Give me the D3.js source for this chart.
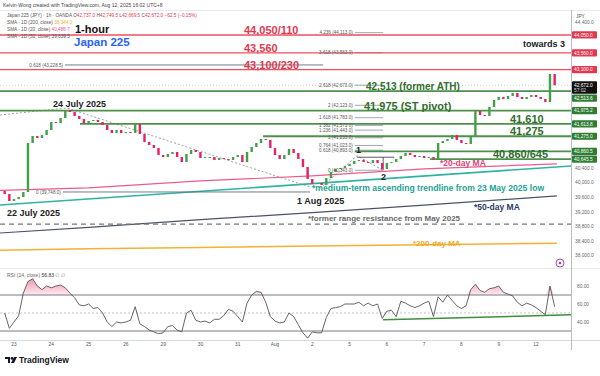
<!DOCTYPE html>
<html>
<head>
<meta charset="utf-8">
<script src="https://cdn.jsdelivr.net/npm/d3@7"></script>
<style>
  html, body { margin: 0; padding: 0; background: #fff; }
  svg { display: block; font-family: "Liberation Sans", Arial, sans-serif; }
</style>
</head>
<body>
<div id="chart"></div>
<script>
// ---- data ----
const dayLabels = ['23', '24', '25', '26', '29', '30', '31', 'Aug', '2', '5', '6', '7', '8', '9', '12'];

// hourly closes sampled ~every 3 hours (8 per session), 22 Jul -> 12 Aug
const firstOpen = 39780;
const closes = [
  39692, 39501, 39555, 39610, 39747, 41090, 41282, 41227, 41309, 41446,
  41665, 41638, 41775, 41994, 41939, 41830, 41748, 41638, 41693, 41720,
  41665, 41583, 41446, 41364, 41446, 41364, 41391, 41364, 41610, 41336,
  41117, 41035, 40953, 40761, 40706, 40788, 40843, 40706, 40569, 40788,
  40898, 40843, 40679, 40706, 40706, 40624, 40679, 40651, 40624, 40706,
  40761, 40569, 40843, 40980, 41090, 41199, 41172, 40953, 40761, 40651,
  40761, 40925, 40816, 40651, 40432, 40103, 39966, 39994, 39939, 40131,
  40295, 40377, 40405, 40460, 40514, 40597, 40624, 40569, 40542, 40624,
  40542, 40377, 40542, 40569, 40651, 40734, 40816, 40761, 40706, 40734,
  40679, 40706, 40651, 41090, 41145, 41199, 41309, 41172, 41090, 41062,
  41254, 41967, 41857, 41830, 42076, 42268, 42350, 42295, 42378, 42460,
  42350, 42295, 42350, 42405, 42350, 42295, 42213, 42980, 42672
];

const rsiValues = [
  50, 33, 40, 47, 72, 85, 88, 80, 76, 80,
  78, 80, 81, 78, 72, 67, 59, 58, 60, 55,
  56, 50, 40, 35, 40, 39, 40, 42, 57, 38,
  35, 31, 29, 27, 28, 35, 36, 31, 29, 50,
  53, 42, 40, 41, 39, 43, 43, 47, 54, 52,
  46, 40, 61, 70, 74, 73, 62, 46, 41, 39,
  40, 50, 46, 37, 28, 22, 29, 28, 28, 45,
  55, 56, 57, 60, 60, 60, 62, 58, 61, 58,
  60, 44, 52, 53, 46, 63, 61, 58, 56, 58,
  61, 63, 46, 68, 62, 70, 64, 58, 55, 58,
  76, 82, 75, 73, 77, 78, 80, 73, 71, 69,
  62, 58, 61, 59, 56, 52, 48, 80, 57
];

// daily moving averages (day position, value)
const maDays = [-0.375, 2, 5, 8, 11, 14.56];
const ma20 = [39790, 39860, 40050, 40190, 40380, 40520];
const ma50 = [38624, 38780, 38990, 39180, 39390, 39640];
const ma200 = [38150, 38190, 38230, 38265, 38300, 38344];

// drawings
const trendDays = [-0.375, 14.94];
const trendPrices = [39391, 40460];           // medium-term ascending trendline
const rangeResistance = 38870;
const downDays = [-0.375, 1.42, 7.94];
const downPrices = [41857, 42049, 39884];     // dotted descending line from 24 Jul
const abcDays = [8.21, 9.2, 9.9];
const abcPrices = [39850, 40740, 40343];

const redLevels = [44050, 43560, 43100];
const redTexts = ['44,050/110', '43,560', '43,100/230'];
const greenLevels = [42513.6, 41975.2, 41613.8, 41275, 40860.5, 40645.5];
const greenStart = [-0.375, -0.375, 1.77, 6.68, 9.14, 11.16];

const fibRatios = ['0', '0.618', '0.764', '1', '1.236', '1.382', '1.618', '2', '2.618', '3.618', '4.236'];
const fibPrices = [40343, 40893, 41023, 41233, 41443, 41573, 41783, 42123, 42673, 43563, 44113];
const leftFibRatios = ['0.618', '0'];
const leftFibPrices = [43228.5, 39748];

const rsiTicks = [80, 60, 40];
const lastPrice = 42672;

// ---- layout ----
const W = 600, H = 376;
const axisX = 571;
const colors = {
  up: '#43a047', down: '#e91e63', red: '#ef4f5f', green: '#4e8f4c', greenDark: '#2f6e2d',
  teal: '#2fb3a5', pink: '#ec5b8a', navy: '#4a5468', gold: '#f2b233', gray: '#6b6f78'
};

const svg = d3.select('#chart').append('svg').attr('width', W).attr('height', H);
svg.append('rect').attr('width', W).attr('height', H).attr('fill', '#fff');

const x = d3.scaleLinear().domain([0, 14]).range([14, 536]);
const y = d3.scaleLinear().domain([37720, 44679]).range([266, 12]);
const yR = d3.scaleLinear().domain([30, 70]).range([331, 295]);
const barDay = i => -0.25 + i / 8;

const defs = svg.append('defs');
defs.append('clipPath').attr('id', 'clipMain')
  .append('rect').attr('x', 0).attr('y', 10).attr('width', axisX).attr('height', 258);
defs.append('clipPath').attr('id', 'clipRsi')
  .append('rect').attr('x', 0).attr('y', 268).attr('width', axisX).attr('height', 72);
const grad = defs.append('linearGradient').attr('id', 'obFill').attr('x1', 0).attr('x2', 0).attr('y1', 0).attr('y2', 1);
grad.append('stop').attr('offset', '0%').attr('stop-color', '#f0527d').attr('stop-opacity', 0.6);
grad.append('stop').attr('offset', '100%').attr('stop-color', '#f0527d').attr('stop-opacity', 0.12);

// frame
svg.append('line').attr('x1', 0).attr('x2', W).attr('y1', 10.5).attr('y2', 10.5).attr('stroke', '#e6e8ee');
svg.append('line').attr('x1', 0).attr('x2', W).attr('y1', 268.5).attr('y2', 268.5).attr('stroke', '#e6e8ee');
svg.append('line').attr('x1', 0).attr('x2', W).attr('y1', 340.5).attr('y2', 340.5).attr('stroke', '#d6d9e0');
svg.append('line').attr('x1', axisX + 0.5).attr('x2', axisX + 0.5).attr('y1', 10).attr('y2', 350).attr('stroke', '#b8bcc6');

const main = svg.append('g').attr('clip-path', 'url(#clipMain)');
const lineGen = d3.line().x(d => x(d[0])).y(d => y(d[1]));

// moving averages and trendlines
main.append('path').attr('d', lineGen(d3.zip(maDays, ma200))).attr('fill', 'none')
  .attr('stroke', colors.gold).attr('stroke-width', 1.5);
main.append('path').attr('d', lineGen(d3.zip(maDays, ma50))).attr('fill', 'none')
  .attr('stroke', colors.navy).attr('stroke-width', 1.2);
main.append('line').attr('x1', 0).attr('x2', axisX)
  .attr('y1', y(rangeResistance)).attr('y2', y(rangeResistance))
  .attr('stroke', '#777').attr('stroke-width', 1.2).attr('stroke-dasharray', '5,4');
main.append('path').attr('d', lineGen(d3.zip(trendDays, trendPrices))).attr('fill', 'none')
  .attr('stroke', colors.teal).attr('stroke-width', 1.6);
main.append('path').attr('d', lineGen(d3.zip(maDays, ma20))).attr('fill', 'none')
  .attr('stroke', colors.pink).attr('stroke-width', 1.2);
main.append('path').attr('d', lineGen(d3.zip(downDays, downPrices))).attr('fill', 'none')
  .attr('stroke', '#888').attr('stroke-width', 0.8).attr('stroke-dasharray', '2,2');
main.append('path').attr('d', lineGen(d3.zip(abcDays, abcPrices))).attr('fill', 'none')
  .attr('stroke', '#777').attr('stroke-width', 0.8).attr('stroke-dasharray', '2,2');

// current price line
main.append('line').attr('x1', 0).attr('x2', axisX).attr('y1', y(lastPrice)).attr('y2', y(lastPrice))
  .attr('stroke', '#bbb').attr('stroke-width', 0.7).attr('stroke-dasharray', '1,2');

// fib levels (right) and (left)
const fibG = main.append('g');
fibPrices.forEach(p => {
  fibG.append('line').attr('x1', x(9.14)).attr('x2', x(9.9)).attr('y1', y(p)).attr('y2', y(p))
    .attr('stroke', '#8a8e98').attr('stroke-width', 0.8);
});
leftFibPrices.forEach((p, i) => {
  fibG.append('line').attr('x1', x(i === 0 ? 1.37 : 1.31)).attr('x2', x(i === 0 ? 8.29 : 7.94))
    .attr('y1', y(p)).attr('y2', y(p)).attr('stroke', '#5d6f80').attr('stroke-width', 0.9);
});

// horizontal levels
greenLevels.forEach((p, i) => {
  main.append('line').attr('x1', x(greenStart[i])).attr('x2', axisX).attr('y1', y(p)).attr('y2', y(p))
    .attr('stroke', colors.green).attr('stroke-width', 1.8);
});
redLevels.forEach(p => {
  main.append('line').attr('x1', 0).attr('x2', axisX).attr('y1', y(p)).attr('y2', y(p))
    .attr('stroke', colors.red).attr('stroke-width', 1.4);
});

// point 1 / 2 box lines
main.append('line').attr('x1', x(9.2)).attr('x2', x(10.2)).attr('y1', y(40700)).attr('y2', y(40700))
  .attr('stroke', '#333').attr('stroke-width', 0.8);
main.append('line').attr('x1', x(9.9)).attr('x2', x(9.9)).attr('y1', y(40700)).attr('y2', y(40343))
  .attr('stroke', '#333').attr('stroke-width', 0.8);

// candles
const bars = closes.map((c, i) => ({ d: barDay(i), o: i === 0 ? firstOpen : closes[i - 1], c }));
main.append('g').selectAll('rect').data(bars).join('rect')
  .attr('x', d => x(d.d) - 1.2)
  .attr('width', 2.4)
  .attr('y', d => y(Math.max(d.o, d.c)))
  .attr('height', d => Math.max(1, Math.abs(y(d.o) - y(d.c))))
  .attr('fill', d => (d.c >= d.o ? colors.up : colors.down));

// ---- texts on the main pane ----
const txt = (g, s, xp, yp, size, fill, weight, anchor) => g.append('text')
  .attr('x', xp).attr('y', yp).attr('font-size', size).attr('fill', fill)
  .attr('font-weight', weight || 'normal').attr('text-anchor', anchor || 'start').text(s);

const ann = svg.append('g');
fibPrices.forEach((p, i) => {
  txt(ann, `${fibRatios[i]} (${d3.format(',.1f')(p)})`, x(9.14) - 2, y(p) + 1.6, 4.6, '#555', 'normal', 'end');
});
leftFibPrices.forEach((p, i) => {
  txt(ann, `${leftFibRatios[i]} (${d3.format(',.1f')(p)})`, x(i === 0 ? 1.37 : 1.31) - 2, y(p) + 1.6, 4.6, '#555', 'normal', 'end');
});

redTexts.forEach((s, i) => txt(ann, s, 244, y(redLevels[i]) - 0.8, 11, '#e2384f', 'bold'));
txt(ann, '42,513 (former ATH)', 366, y(greenLevels[0]) - 0.8, 10, colors.greenDark, 'bold');
txt(ann, '41,975 (ST pivot)', 364, y(greenLevels[1]) - 0.8, 11, colors.greenDark, 'bold');
txt(ann, '41,610', 510, y(greenLevels[2]) - 0.8, 11, colors.greenDark, 'bold');
txt(ann, '41,275', 510, y(greenLevels[3]) - 0.8, 11, colors.greenDark, 'bold');
txt(ann, '40,860/645', 493, y(greenLevels[5]) - 0.8, 11, colors.greenDark, 'bold');

txt(ann, '1-hour', 75, 33, 11, '#111', 'bold');
txt(ann, 'Japan 225', 74, 46, 11.5, '#2962ff', 'bold');
txt(ann, 'towards 3', 523, 47, 9, '#222', 'bold');
txt(ann, '24 July 2025', 53, 107, 9, '#222', 'bold');
txt(ann, '22 July 2025', 7, 216, 9, '#222', 'bold');
txt(ann, '1 Aug 2025', 297, 204, 9, '#222', 'bold');
txt(ann, '1', 356, 153, 9, '#222', 'bold');
txt(ann, '2', 381, 180, 9, '#222', 'bold');
txt(ann, '*20-day MA', 440, 166, 8.5, '#e0457b', 'bold');
txt(ann, '*medium-term ascending trendline from 23 May 2025 low', 312, 191, 8.6, '#1fa395', 'bold');
txt(ann, '*50-day MA', 474, 210, 8.5, '#2c3a66', 'bold');
txt(ann, '*former range resistance from May 2025', 308, 221, 8, '#6a6a6a', 'bold');
txt(ann, '*200-day MA', 413, 246, 8, '#efa820', 'bold');

// event icon
svg.append('circle').attr('cx', 560).attr('cy', 263).attr('r', 4)
  .attr('fill', '#fff').attr('stroke', '#9c4dcc').attr('stroke-width', 1);
svg.append('circle').attr('cx', 560).attr('cy', 263).attr('r', 1.3).attr('fill', '#e53935');

// ---- header legend ----
const head = svg.append('g').attr('font-size', 4.7);
txt(head, 'Kelvin-Wong created with TradingView.com, Aug 12, 2025 16:02 UTC+8', 3, 7, 5, '#444');
const l1 = head.append('text').attr('x', 7).attr('y', 17).attr('fill', '#555');
l1.append('tspan').text('Japan 225 (JPY) · 1h · OANDA  ');
[['O', '42,737.0'], ['H', '42,749.5'], ['L', '42,669.5'], ['C', '42,672.0']].forEach(([k, v]) => {
  l1.append('tspan').text(k);
  l1.append('tspan').attr('fill', '#e2384f').text(v + ' ');
});
l1.append('tspan').attr('fill', '#e2384f').text('−62.5 (−0.15%)');
[['SMA - 1D (200, close) ', '38,344.0', colors.gold, 23.5],
 ['SMA - 1D (20, close) ', '40,486.7', colors.pink, 30.5],
 ['SMA - 1D (50, close) ', '39,639.5', colors.navy, 37.5]].forEach(([k, v, c, yy]) => {
  const t = head.append('text').attr('x', 7).attr('y', yy).attr('fill', '#555');
  t.append('tspan').text(k);
  t.append('tspan').attr('fill', c).text(v);
});

// ---- price axis ----
const axisG = svg.append('g').attr('font-size', 4.8);
const tagYs = redLevels.map(p => y(p))
  .concat(greenLevels.map((p, i) => (i === 0 ? y(p) + 7 : y(p))));
const boxTop = y(lastPrice) - 4, boxBot = y(lastPrice) + 8.5;
d3.range(38000, 44401, 400)
  .filter(p => tagYs.every(t => Math.abs(t - y(p)) > 7.5) && (y(p) < boxTop - 4 || y(p) > boxBot + 4))
  .forEach(p => txt(axisG, d3.format(',.1f')(p), axisX + 4, y(p) + 1.7, 4.8, '#666'));
txt(axisG, 'JPY', axisX + 5, 18, 4.8, '#555');
const tag = (yy, fill, label) => {
  axisG.append('rect').attr('x', axisX + 1).attr('y', yy - 3.6).attr('width', 25).attr('height', 7.2)
    .attr('rx', 1).attr('fill', fill);
  txt(axisG, label, axisX + 3, yy + 1.7, 4.8, '#fff');
};
redLevels.forEach((p, i) => tag(tagYs[i], '#e2384f', d3.format(',.1f')(p)));
greenLevels.forEach((p, i) => tag(tagYs[i + 3], '#2f7d32', d3.format(',.1f')(p)));
axisG.append('rect').attr('x', axisX + 1).attr('y', boxTop).attr('width', 25).attr('height', boxBot - boxTop)
  .attr('rx', 1).attr('fill', '#111');
txt(axisG, d3.format(',.1f')(lastPrice), axisX + 3, y(lastPrice) + 1.6, 4.8, '#fff');
txt(axisG, '57:02', axisX + 3, y(lastPrice) + 6.8, 4.8, '#ddd');

// ---- RSI pane ----
const rsiG = svg.append('g').attr('clip-path', 'url(#clipRsi)');
const rsiPts = rsiValues.map((v, i) => [barDay(i), v]);
rsiG.append('path')
  .attr('d', d3.area().x(d => x(d[0])).y0(yR(70)).y1(d => yR(Math.max(70, d[1])))(rsiPts))
  .attr('fill', 'url(#obFill)');
[70, 30].forEach(v => rsiG.append('line').attr('x1', 0).attr('x2', axisX).attr('y1', yR(v)).attr('y2', yR(v))
  .attr('stroke', '#787b86').attr('stroke-width', 1));
rsiG.append('line').attr('x1', 0).attr('x2', axisX).attr('y1', yR(50)).attr('y2', yR(50))
  .attr('stroke', '#aaa').attr('stroke-width', 0.7).attr('stroke-dasharray', '2,2');
rsiG.append('path').attr('d', d3.line().x(d => x(d[0])).y(d => yR(d[1]))(rsiPts))
  .attr('fill', 'none').attr('stroke', '#555').attr('stroke-width', 0.9);
rsiG.append('line').attr('x1', x(9.9)).attr('x2', axisX).attr('y1', yR(42.5)).attr('y2', yR(48))
  .attr('stroke', '#3f8f3c').attr('stroke-width', 1.5);
const rl = svg.append('text').attr('x', 7).attr('y', 277).attr('font-size', 5).attr('fill', '#666');
rl.append('tspan').text('RSI (14, close) ');
rl.append('tspan').attr('fill', '#333').text('56.83');
rl.append('tspan').attr('fill', '#999').text('  ∅  ∅');
rsiTicks.forEach(v => txt(svg, d3.format('.2f')(v), axisX + 6, yR(v) + 1.7, 4.8, '#666'));

// ---- time axis ----
dayLabels.forEach((s, i) => txt(svg, s, x(i), 346, 4.8, '#555', 'normal', 'middle'));

// ---- logo ----
const logo = svg.append('g').attr('transform', 'translate(5,357)');
logo.append('path').attr('d', 'M0,0 H5 V6 H3 V2 H0 Z').attr('fill', '#131722');
logo.append('circle').attr('cx', 7).attr('cy', 1.4).attr('r', 1.4).attr('fill', '#131722');
logo.append('path').attr('d', 'M9,0 H12 L9,6 H6 Z').attr('fill', '#131722');
txt(logo, 'TradingView', 14, 6.2, 8.5, '#131722', 'bold');
</script>
</body>
</html>
